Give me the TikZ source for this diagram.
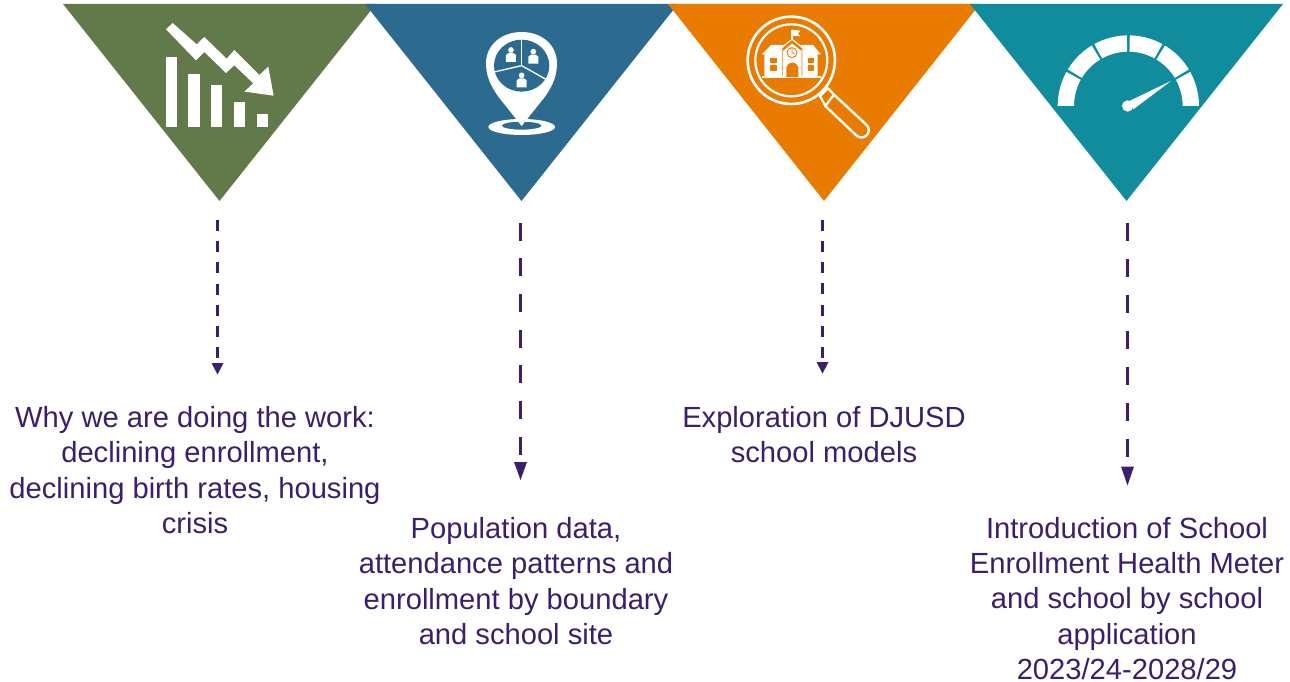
\documentclass[tikz,border=0pt]{standalone}
\usepackage{fontspec}
\setmainfont{Liberation Sans}
\definecolor{cgreen}{HTML}{62794A}
\definecolor{cblue}{HTML}{2C6A8F}
\definecolor{corange}{HTML}{E87B00}
\definecolor{cteal}{HTML}{118C9D}
\definecolor{cpurple}{HTML}{3B1E6D}
\tikzset{
  lbl/.style={text=cpurple,align=center,inner sep=0pt,font=\fontsize{29.15}{35.4}\selectfont},
  conn/.style={draw=cpurple,line width=2.5pt},
  tip/.style={fill=cpurple},
  ico/.style={fill=white,draw=none},
  person/.style={fill=white},
}
\newcommand{\zperson}[2]{%
  \fill[person] (#1,#2) circle (8.5);
  \fill[person] (#1-15,#2+36) -- (#1-15,#2+15) -- (#1-7,#2+9) -- (#1+7,#2+9) -- (#1+15,#2+15) -- (#1+15,#2+36) -- cycle;}
\begin{document}
\begin{tikzpicture}[x=1pt,y=-1pt]
\useasboundingbox (0,0) rectangle (1290,682);
% triangles
\fill[cgreen] (63,4) -- (376,4) -- (219.5,201) -- cycle;
\fill[cblue] (365,4) -- (678,4) -- (521.5,201) -- cycle;
\fill[corange] (668,4) -- (980,4) -- (824,201) -- cycle;
\fill[cteal] (970,4) -- (1283,4) -- (1126.5,201) -- cycle;
% falling chart
\begin{scope}[shift={(60,0)},x=0.3333pt,y=-0.3333pt]
\fill[ico] (317,170) rectangle (351,381);
\fill[ico] (385,221) rectangle (419,381);
\fill[ico] (453,256) rectangle (487,381);
\fill[ico] (521,307) rectangle (555,381);
\fill[ico] (590,342) rectangle (624,381);
\fill[ico] (318,88) -- (338,69) -- (410,133) -- (433,111) -- (500,176) -- (523,150) -- (598,225) -- (625,200) -- (641,287) -- (553,275) -- (580,250) -- (523,196) -- (498,219) -- (433,156) -- (408,181) -- cycle;
\end{scope}
% map pin
\begin{scope}[shift={(370,0)},x=0.3333pt,y=-0.3333pt]
\fill[ico,even odd rule] (455,381) ellipse [x radius=100,y radius=24] (455,377) ellipse [x radius=60,y radius=12];
\fill[ico] (455,378) -- (385,290) .. controls (360,255) and (348,225) .. (348,190) .. controls (348,135) and (395,96) .. (455,96) .. controls (515,96) and (561,135) .. (561,190) .. controls (561,225) and (550,255) .. (525,290) -- cycle;
\fill[cblue] (455,197) ellipse [x radius=83,y radius=78];
\draw[white,line width=1.3pt] (455,197) -- (455,118);
\draw[white,line width=1.3pt] (455,197) -- (372,216);
\draw[white,line width=1.3pt] (455,197) -- (528,238);
\zperson{423}{150}
\zperson{490}{155}
\zperson{455}{226}
\end{scope}
% magnifier
\begin{scope}[shift={(670,0)},x=0.3333pt,y=-0.3333pt]
\draw[white,line width=2.6pt] (364,181) circle (131);
\draw[white,line width=2.2pt] (364,181) circle (108);
\draw[white,line width=2.2pt,line join=round] (450,288) -- (474,265) -- (492,284) -- (466,318) -- cycle;
\draw[white,line width=2.4pt] (492,284) -- (590,375) arc[start angle=-45,end angle=135,radius=22] -- (466,318);
\end{scope}
% school
\begin{scope}[shift={(745,15)},x=0.3333pt,y=-0.3333pt]
\fill[ico] (50,118) -- (78,90) -- (122,90) -- (112,100) -- (112,186) -- (58,186) -- (58,118) -- cycle;
\fill[ico] (228,118) -- (204,90) -- (160,90) -- (172,100) -- (172,186) -- (218,186) -- (218,118) -- cycle;
\fill[ico] (50,184) rectangle (228,189);
\fill[ico] (114,186) -- (114,108) -- (141,86) -- (170,108) -- (170,186) -- cycle;
\draw[white,line width=1.1pt] (101,105) -- (141,73) -- (182,105);
\draw[white,line width=1.1pt] (141,75) -- (141,46);
\fill[ico] (141,44) -- (166,47) -- (159,55) -- (166,64) -- (141,62) -- cycle;
\fill[corange] (124,186) -- (124,161) arc[start angle=180,end angle=360,radius=18] -- (160,186) -- cycle;
\draw[corange,line width=0.9pt,fill=white] (141,113) circle (15);
\draw[corange,line width=0.7pt] (141,102) -- (141,113) -- (150,117);
\foreach \wx in {75,188}{
  \fill[corange] (\wx,128) rectangle (\wx+20,144);
  \fill[corange] (\wx,150) rectangle (\wx+20,168);
}
\end{scope}
% gauge
\begin{scope}[shift={(970,0)},x=0.3333pt,y=-0.3333pt]
\foreach \a/\d in {-180/28.8,-148.8/27.6,-118.8/27.6,-88.8/27.6,-58.8/27.6,-28.8/28.8}{
  \fill[ico] (475,318) ++(\a:212) arc[start angle=\a,delta angle=\d,radius=212]
     -- ++({\a+\d}:-49) arc[start angle={\a+\d},delta angle=-\d,radius=163] -- cycle;
}
\fill[ico] (473,318) circle (17);
\fill[ico] (480,302) -- (603,243) -- (490,328) -- cycle;
\end{scope}
% labels
\node[lbl] (t1) at (195,470) {Why we are doing the work:\\declining enrollment,\\declining birth rates, housing\\crisis};
\node[lbl] (t2) at (516,581) {Population data,\\attendance patterns and\\enrollment by boundary\\and school site};
\node[lbl] (t3) at (824,434.5) {Exploration of DJUSD\\school models};
\node[lbl] (t4) at (1127,598.5) {Introduction of School\\Enrollment Health Meter\\and school by school\\application\\2023/24-2028/29};
% connectors
\coordinate (a1) at (217.5,220); \coordinate (b1) at (217.5,363);
\coordinate (a2) at (520.5,222.5); \coordinate (b2) at (520.5,462);
\coordinate (a3) at (822.5,219.5); \coordinate (b3) at (822.5,362);
\coordinate (a4) at (1127.5,223); \coordinate (b4) at (1127.5,466.5);
\draw[conn,dash pattern=on 11pt off 10.2pt] (a1) -- (b1);
\draw[conn,dash pattern=on 18pt off 17.7pt] (a2) -- (b2);
\draw[conn,dash pattern=on 11pt off 10.3pt] (a3) -- (b3);
\draw[conn,dash pattern=on 18pt off 18pt] (a4) -- (b4);
\fill[tip] (b1) ++(-6,0) -- ++(12,0) -- ++(-6,11.5) -- cycle;
\fill[tip] (b2) ++(-6.5,0) -- ++(13,0) -- ++(-6.5,18) -- cycle;
\fill[tip] (b3) ++(-6,0) -- ++(12,0) -- ++(-6,11.5) -- cycle;
\fill[tip] (b4) ++(-6.5,0) -- ++(13,0) -- ++(-6.5,19) -- cycle;
\end{tikzpicture}
\end{document}
